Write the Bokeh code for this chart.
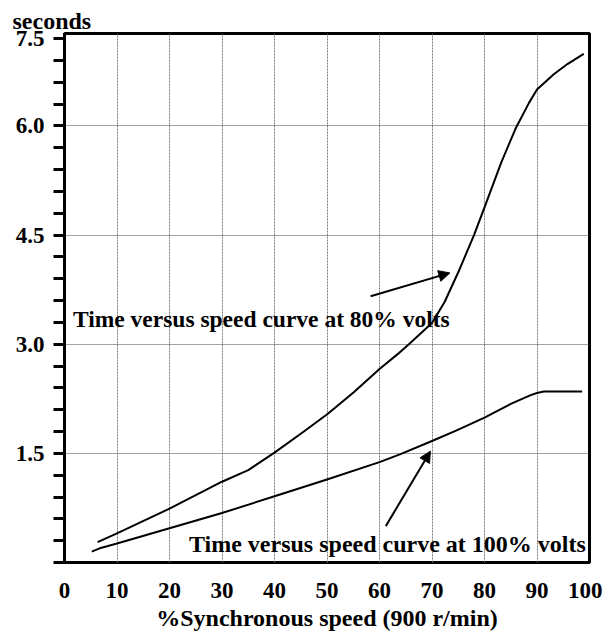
from bokeh.plotting import figure
from bokeh.models import FixedTicker, Label, Arrow, NormalHead, Range1d
from bokeh.embed import file_html
from bokeh.resources import INLINE

# ---- data ----
speed_80 = [6.3, 10, 20, 30, 35, 40, 45.6, 50.1, 55.1, 60, 63.4, 65.6, 70,
            72.4, 75.2, 78.0, 80, 83.2, 85.9, 88.5, 90, 93.2, 95.8, 98.9]
time_80 = [0.28, 0.40, 0.74, 1.11, 1.27, 1.51, 1.80, 2.04, 2.34, 2.66, 2.86, 3.00, 3.29,
           3.58, 4.02, 4.50, 4.88, 5.50, 5.96, 6.32, 6.50, 6.71, 6.85, 6.99]

speed_100 = [5.2, 6.9, 10, 20, 30, 40, 50, 60, 64, 70, 74.8, 80, 85, 88.8, 90, 91.3, 98.6]
time_100 = [0.15, 0.20, 0.26, 0.47, 0.68, 0.91, 1.14, 1.38, 1.49, 1.67, 1.82, 1.99,
            2.18, 2.30, 2.33, 2.35, 2.35]

x_ticks = [0, 10, 20, 30, 40, 50, 60, 70, 80, 90, 100]
y_tick_values = [0, 1.5, 3.0, 4.5, 6.0, 7.2]
y_tick_labels = ["", "1.5", "3.0", "4.5", "6.0", "7.5"]
y_grid_values = [1.5, 3.0, 4.5, 6.0]

label_80 = "Time versus speed curve at 80% volts"
label_100 = "Time versus speed curve at 100% volts"
x_title = "%Synchronous speed (900 r/min)"
y_title = "seconds"

FONT = "Liberation Serif"
FS = "23px"
FS_BIG = "24px"

p = figure(width=602, height=633, x_range=Range1d(0, 100), y_range=Range1d(0, 7.27),
           output_backend="svg", toolbar_location=None,
           min_border_left=64, min_border_right=13, min_border_top=33,
           min_border_bottom=67, title=y_title)

p.title.text_font = FONT
p.title.text_font_style = "bold"
p.title.text_font_size = FS_BIG
p.title.text_color = "black"
p.title.align = "left"
p.title.offset = -52
p.title.standoff = 0

p.outline_line_color = "black"
p.outline_line_width = 3
p.background_fill_color = "white"
p.border_fill_color = "white"

# x axis
p.xaxis.ticker = FixedTicker(ticks=x_ticks)
p.xaxis.axis_line_color = None
p.xaxis.major_tick_line_color = None
p.xaxis.minor_tick_line_color = None
p.xaxis.major_label_text_font = FONT
p.xaxis.major_label_text_font_style = "bold"
p.xaxis.major_label_text_font_size = FS
p.xaxis.major_label_text_color = "black"
p.xaxis.major_label_standoff = 14
p.xaxis.axis_label = x_title
p.xaxis.axis_label_text_font = FONT
p.xaxis.axis_label_text_font_style = "bold"
p.xaxis.axis_label_text_font_size = FS_BIG
p.xaxis.axis_label_text_color = "black"
p.xaxis.axis_label_standoff = 4

# y axis
minor = [round(0.3 * i, 1) for i in range(1, 24) if i % 5]
p.yaxis.ticker = FixedTicker(ticks=y_tick_values, minor_ticks=minor)
p.yaxis.major_label_overrides = {v: t for v, t in zip(y_tick_values, y_tick_labels)}
p.yaxis.axis_line_width = 3
p.yaxis.axis_line_color = "black"
p.yaxis.major_tick_out = 11
p.yaxis.major_tick_in = 0
p.yaxis.minor_tick_out = 11
p.yaxis.minor_tick_in = 0
p.yaxis.major_tick_line_width = 3
p.yaxis.minor_tick_line_width = 3
p.yaxis.major_tick_line_color = "black"
p.yaxis.minor_tick_line_color = "black"
p.yaxis.major_label_text_font = FONT
p.yaxis.major_label_text_font_style = "bold"
p.yaxis.major_label_text_font_size = FS
p.yaxis.major_label_text_color = "black"
p.yaxis.major_label_standoff = 9

# grids
p.xgrid.ticker = FixedTicker(ticks=x_ticks[1:-1])
p.xgrid.grid_line_color = "#7a7a7a"
p.xgrid.grid_line_dash = "2 1"
p.xgrid.grid_line_width = 1
p.ygrid.ticker = FixedTicker(ticks=y_grid_values)
p.ygrid.grid_line_color = "#444444"
p.ygrid.grid_line_dash = "1 1"
p.ygrid.grid_line_width = 1

# curves
p.line(speed_80, time_80, line_color="black", line_width=2, line_join="round")
p.line(speed_100, time_100, line_color="black", line_width=2, line_join="round")

# annotations
p.add_layout(Label(x=1.6, y=3.34, text=label_80, text_font=FONT, text_font_style="bold",
                   text_font_size="23.5px", text_color="black", text_baseline="alphabetic"))
p.add_layout(Label(x=99.3, y=0.25, text=label_100, text_font=FONT, text_font_style="bold",
                   text_font_size=FS_BIG, text_color="black", text_align="right",
                   text_baseline="alphabetic"))

p.add_layout(Arrow(x_start=58.3, y_start=3.66, x_end=73.4, y_end=3.98, line_width=2,
                   line_color="black",
                   end=NormalHead(size=11, fill_color="black", line_color="black")))
p.add_layout(Arrow(x_start=61.2, y_start=0.50, x_end=69.7, y_end=1.53, line_width=2,
                   line_color="black",
                   end=NormalHead(size=11, fill_color="black", line_color="black")))

open("out.html", "w").write(file_html(p, INLINE))
